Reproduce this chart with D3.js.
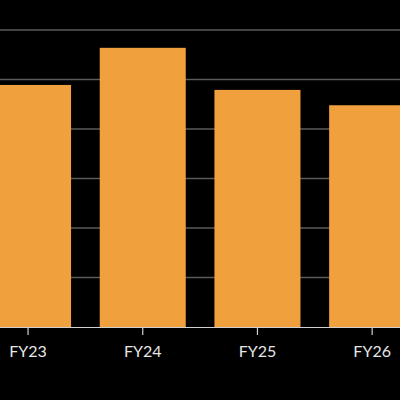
<!DOCTYPE html>
<html><head><meta charset="utf-8">
<script src="https://cdn.jsdelivr.net/npm/d3@7/dist/d3.min.js"></script>
<style>html,body{margin:0;padding:0;background:#000;}svg{display:block;}</style>
</head><body>
<svg id="c" width="400" height="400"></svg>
<script>
const categories = ["FY23", "FY24", "FY25", "FY26"];
const values = [4.89, 5.64, 4.79, 4.48];
const yTicks = [0, 1, 2, 3, 4, 5, 6];

const svg = d3.select("#c");
svg.append("rect").attr("width", 400).attr("height", 400).attr("fill", "#000");

const x = d3.scaleBand().domain(categories).range([-29.3, 429.5]).paddingInner(0.25).paddingOuter(0.125);
const y = d3.scaleLinear().domain([0, 6]).range([327, 30]);

svg.append("g").selectAll("line").data(yTicks.filter(d => d > 0)).join("line")
  .attr("x1", 0).attr("x2", 400)
  .attr("y1", d => y(d)).attr("y2", d => y(d))
  .attr("stroke", "#5a5a5a").attr("stroke-width", 1.5);

svg.append("g").selectAll("rect").data(values).join("rect")
  .attr("x", (d, i) => x(categories[i]))
  .attr("width", x.bandwidth())
  .attr("y", d => y(d))
  .attr("height", d => y(0) - y(d))
  .attr("fill", "#F0A03C");

const ax = svg.append("g").attr("transform", `translate(0,${y(0)})`)
  .call(d3.axisBottom(x).tickSize(8).tickPadding(10.5).tickSizeOuter(0));
ax.select(".domain").attr("stroke", "#d0d0d0").attr("stroke-width", 1.2).attr("d", "M0,0.5H400");
ax.selectAll(".tick line").attr("stroke", "#d0d0d0").attr("stroke-width", 1.2);
ax.selectAll(".tick text").attr("fill", "#e6e6e6").attr("font-family", "Lato, sans-serif").attr("font-size", 16);
</script>
</body></html>
